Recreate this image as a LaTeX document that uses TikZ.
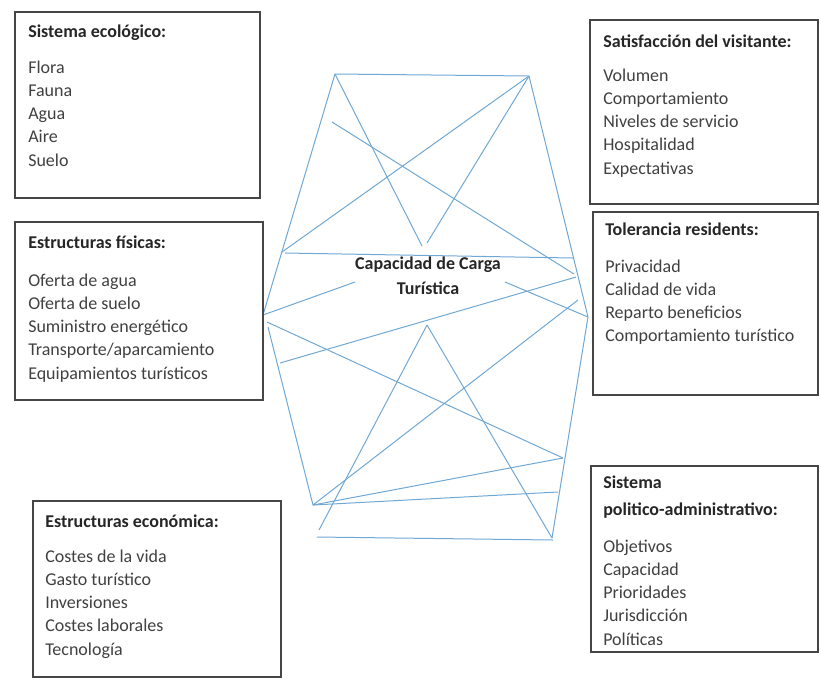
\documentclass[tikz,border=0pt]{standalone}
\usepackage{fontspec}
\setmainfont{Carlito}
\usetikzlibrary{fit}
\definecolor{azul}{RGB}{112,168,212}
\definecolor{gris}{RGB}{70,70,70}
\begin{document}
\begin{tikzpicture}
  [x=0.75pt,y=-0.75pt,
   caja/.style={draw=gris,line width=0.9pt,inner sep=0pt},
   titulo/.style={anchor=base west,inner sep=0pt,font=\fontsize{13.5}{17}\selectfont\bfseries,text=black!85},
   item/.style={anchor=base west,inner sep=0pt,font=\fontsize{13.5}{17}\selectfont,text=black!75},
   centro/.style={align=center,inner sep=0pt,font=\fontsize{13.5}{18.5}\selectfont\bfseries,text=black!85},
   linea/.style={draw=azul,line width=0.75pt}]
  \useasboundingbox (0,0) rectangle (820,687);

  % Puntos de la red de lineas
  \coordinate (a) at (335,74);
  \coordinate (b) at (529,76);
  \coordinate (v1) at (422,246);
  \coordinate (v2) at (427,243);
  \coordinate (p1) at (282,252);
  \coordinate (h1) at (285,253);
  \coordinate (h2) at (573,258);
  \coordinate (d1) at (332,122);
  \coordinate (d2) at (574,274);
  \coordinate (l1) at (263,315);
  \coordinate (l2) at (267,322);
  \coordinate (l3) at (268,327);
  \coordinate (c1) at (355,282);
  \coordinate (c2) at (505,282);
  \coordinate (r1) at (588,317);
  \coordinate (e1) at (280,363);
  \coordinate (e2) at (576,277);
  \coordinate (f1) at (578,300);
  \coordinate (t) at (427,325);
  \coordinate (r2) at (563,458);
  \coordinate (g) at (558,492);
  \coordinate (bl1) at (313,505);
  \coordinate (bl2) at (319,530);
  \coordinate (br) at (552,538);
  \coordinate (bb1) at (317,537);
  \coordinate (bb2) at (553,540);

  \foreach \from/\to in {a/b, a/l1, a/v1, b/v2, b/p1, b/r1, d1/d2, h1/h2,
      l1/c1, c2/r1, e1/e2, l2/r2, t/bl2, t/br, f1/bl1, bl1/r2, bl1/g,
      bb1/bb2, l3/bl1, r1/br}
    \draw[linea] (\from) -- (\to);

  % Cajas
  \node[caja,fit={(15,12) (260,198)}] (ecol) {};
  \node[caja,fit={(590,20) (818,204)}] (satis) {};
  \node[caja,fit={(15,222) (263,400)}] (fis) {};
  \node[caja,fit={(593,212) (818,395)}] (tol) {};
  \node[caja,fit={(33,501) (281,677)}] (econ) {};
  \node[caja,fit={(591,466) (818,652)}] (pol) {};

  % Textos de las cajas
  \node[titulo] (ecolT) at (28,37) {Sistema ecológico:};
  \foreach \t [count=\i] in {Flora,Fauna,Agua,Aire,Suelo}
    \node[item] (ecol\i) at (28,{73+23.3*(\i-1)}) {\t};

  \node[titulo] (satisT) at (603,47) {Satisfacción del visitante:};
  \foreach \t [count=\i] in {Volumen,Comportamiento,Niveles de servicio,Hospitalidad,Expectativas}
    \node[item] (satis\i) at (603,{81+23.3*(\i-1)}) {\t};

  \node[titulo] (fisT) at (28,248) {Estructuras físicas:};
  \foreach \t [count=\i] in {Oferta de agua,Oferta de suelo,Suministro energético,Transporte/aparcamiento,Equipamientos turísticos}
    \node[item] (fis\i) at (28,{286+23.3*(\i-1)}) {\t};

  \node[titulo] (tolT) at (605,235) {Tolerancia residents:};
  \foreach \t [count=\i] in {Privacidad,Calidad de vida,Reparto beneficios,Comportamiento turístico}
    \node[item] (tol\i) at (605,{272+23.3*(\i-1)}) {\t};

  \node[titulo] (econT) at (45,527) {Estructuras económica:};
  \foreach \t [count=\i] in {Costes de la vida,Gasto turístico,Inversiones,Costes laborales,Tecnología}
    \node[item] (econ\i) at (45,{562+23.3*(\i-1)}) {\t};

  \node[titulo] (polT) at (603,488) {Sistema};
  \node[titulo] (polT2) at (603,515) {politico-administrativo:};
  \foreach \t [count=\i] in {Objetivos,Capacidad,Prioridades,Jurisdicción,Políticas}
    \node[item] (pol\i) at (603,{552+23.3*(\i-1)}) {\t};

  % Etiqueta central
  \node[centro] (ccT) at (428,276) {Capacidad de Carga\\Turística};
\end{tikzpicture}
\end{document}
